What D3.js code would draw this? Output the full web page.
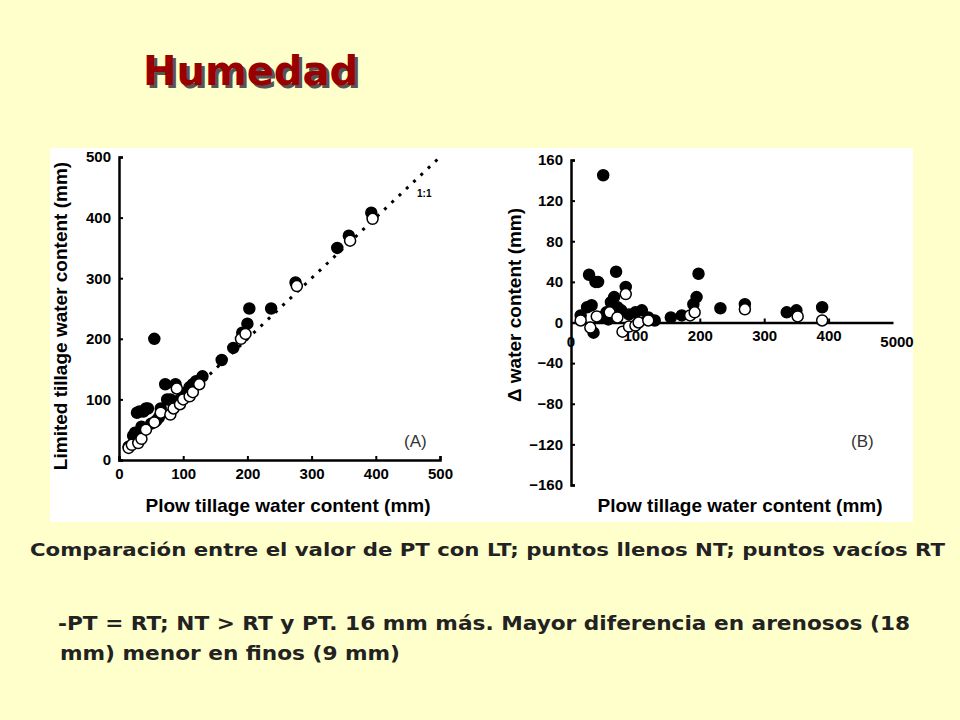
<!DOCTYPE html><html><head><meta charset="utf-8"><script src="https://d3js.org/d3.v7.min.js"></script>
<style>body{margin:0;background:#ffffcc}</style></head><body>
<script>
const aFilled=[[15,22],[22,40],[25,45],[28,78],[32,80],[35,55],[38,80],[42,85],[45,85],[50,60],[55,200],[58,65],[62,70],[65,85],[72,125],[75,100],[80,100],[88,125],[95,100],[100,110],[110,120],[115,125],[120,130],[130,138],[160,165],[178,185],[192,210],[200,225],[203,250],[237,250],[275,293],[340,350],[358,370],[393,408]];
const aOpen=[[15,20],[20,25],[30,28],[35,35],[42,50],[55,62],[65,78],[80,75],[85,85],[90,118],[95,92],[100,100],[110,105],[115,112],[125,125],[190,200],[197,208],[277,287],[360,362],[395,398]];
const bFilled=[[15,7],[25,15],[28,47],[32,17],[35,-10],[38,40],[42,40],[45,5],[50,145],[55,10],[58,3],[62,20],[67,25],[70,50],[72,15],[78,12],[85,35],[90,8],[100,10],[110,12],[120,5],[130,2],[155,5],[172,7],[190,18],[195,25],[198,48],[232,14],[270,18],[335,10],[350,12],[390,15]];
const bOpen=[[15,2],[30,-5],[40,6],[60,10],[72,5],[80,-9],[85,28],[90,-4],[100,-3],[105,0],[120,2],[185,7],[192,10],[270,13],[352,6],[390,2]];
const aTicks=[0,100,200,300,400,500];
const bYTicks=[160,120,80,40,0,-40,-80,-120,-160];
const bXTicks=[100,200,300,400];
const oneToOne=[130,500];

const svg=d3.select("body").append("svg").attr("width",960).attr("height",720);
svg.append("rect").attr("width",960).attr("height",720).attr("fill","#ffffcc");
svg.append("rect").attr("x",50).attr("y",148).attr("width",863).attr("height",374).attr("fill","#fff");
const F="Arial, 'Liberation Sans', sans-serif";
svg.append("text").attr("x",143).attr("y",85).attr("font-family","'DejaVu Sans', Verdana, sans-serif").attr("font-weight","bold").attr("font-size",40).attr("fill","#990000").style("text-shadow","3px 3px 0 #555").text("Humedad");

function pts(g,data,x,y,filled){g.selectAll(null).data(data).enter().append("circle").attr("cx",d=>x(d[0])).attr("cy",d=>y(d[1])).attr("r",5.5).attr("fill",filled?"#000":"#fff").attr("stroke","#000").attr("stroke-width",1.5);}
const axT=(g,x,y,t,rot)=>g.append("text").attr("transform",`translate(${x},${y})`+(rot?" rotate(-90)":"")).attr("text-anchor","middle").attr("font-size",19).attr("font-weight","bold").attr("font-family",F).text(t);

// Panel A
const xa=d3.scaleLinear().domain([0,500]).range([119,440]);
const ya=d3.scaleLinear().domain([0,500]).range([460,157]);
const gA=svg.append("g");
gA.append("g").attr("transform","translate(0,460)").call(d3.axisBottom(xa).tickValues(aTicks).tickSize(-4).tickPadding(8));
gA.append("g").attr("transform","translate(119,0)").call(d3.axisLeft(ya).tickValues(aTicks).tickSize(-4).tickPadding(8));
gA.append("line").attr("x1",xa(oneToOne[0])).attr("y1",ya(oneToOne[0])).attr("x2",xa(oneToOne[1])).attr("y2",ya(oneToOne[1])).attr("stroke","#000").attr("stroke-width",3).attr("stroke-dasharray","3,7");
gA.append("text").attr("x",417).attr("y",197).attr("font-size",10).attr("font-weight","bold").attr("font-family",F).text("1:1");
gA.append("text").attr("x",404).attr("y",447).attr("font-size",17).attr("font-family",F).attr("fill","#333").text("(A)");
axT(gA,288,512,"Plow tillage water content (mm)");
axT(gA,67,316,"Limited tillage water content (mm)",true);
pts(gA,aFilled,xa,ya,true);pts(gA,aOpen,xa,ya,false);

// Panel B
const xb=d3.scaleLinear().domain([0,500]).range([571,893]);
const yb=d3.scaleLinear().domain([-160,160]).range([485,160]);
const gB=svg.append("g");
gB.append("g").attr("transform","translate(571,0)").call(d3.axisLeft(yb).tickValues(bYTicks).tickSize(-4).tickPadding(8));
gB.append("g").attr("transform",`translate(0,${yb(0)})`).call(d3.axisBottom(xb).tickValues(bXTicks).tickSize(-4).tickPadding(8).tickSizeOuter(0));
gB.append("text").attr("x",xb(0)).attr("y",yb(0)+24).attr("font-size",15).attr("font-weight","bold").attr("font-family",F).attr("text-anchor","middle").text("0");
gB.append("text").attr("x",xb(500)+4).attr("y",yb(0)+24).attr("font-size",15).attr("font-weight","bold").attr("font-family",F).attr("text-anchor","middle").text("5000");
gB.append("text").attr("x",851).attr("y",447).attr("font-size",17).attr("font-family",F).attr("fill","#333").text("(B)");
axT(gB,740,512,"Plow tillage water content (mm)");
axT(gB,521,305,"Δ water content (mm)",true);
pts(gB,bFilled,xb,yb,true);pts(gB,bOpen,xb,yb,false);
svg.selectAll(".domain").attr("stroke-width",2.5);
svg.selectAll(".tick line").attr("stroke-width",2);
svg.selectAll(".tick text").attr("font-size",15).attr("font-weight","bold").attr("font-family",F);
// text
const T="'DejaVu Sans', Verdana, sans-serif";
const line=(x,y,s,w,t)=>svg.append("text").attr("x",x).attr("y",y).attr("font-family",T).attr("font-weight","bold").attr("font-size",s).attr("fill","#222").attr("textLength",w).attr("lengthAdjust","spacingAndGlyphs").text(t);
line(30,556,18,915,"Comparación entre el valor de PT con LT; puntos llenos NT; puntos vacíos RT");
line(58,630,20,852,"-PT = RT; NT > RT y PT. 16 mm más. Mayor diferencia en arenosos (18");
line(60,660,20,340,"mm) menor en finos (9 mm)");
</script></body></html>
